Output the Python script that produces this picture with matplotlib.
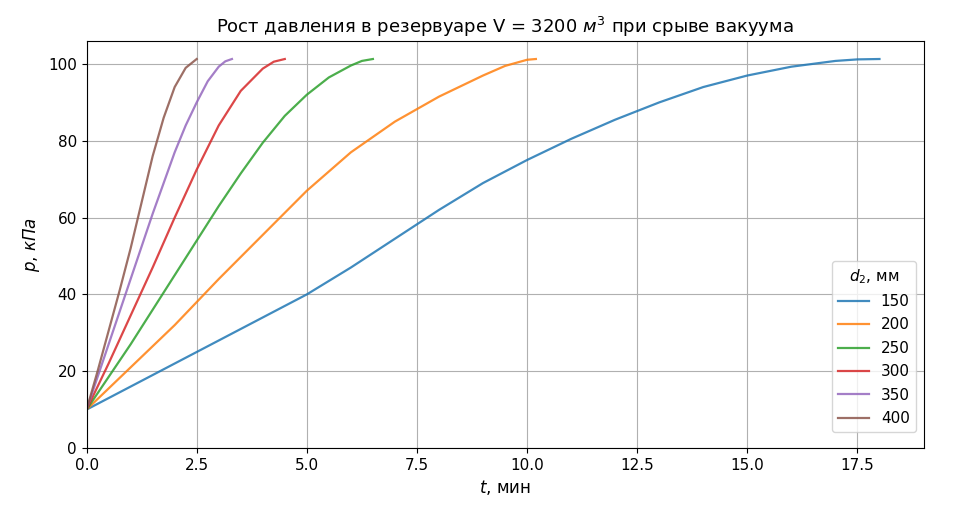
import matplotlib
matplotlib.use("Agg")
import matplotlib.pyplot as plt

diameters = ["150", "200", "250", "300", "350", "400"]
t_150 = [0, 1, 2, 3, 4, 5, 6, 7, 8, 9, 10, 11, 12, 13, 14, 15, 16, 17, 17.5, 18]
p_150 = [10, 16, 22, 28, 34, 40, 47, 54.5, 62, 69, 75, 80.5, 85.5, 90, 94, 97, 99.3, 100.8, 101.2, 101.3]
t_200 = [0, 1, 2, 3, 4, 5, 6, 7, 8, 9, 9.5, 10, 10.2]
p_200 = [10, 21, 32, 44, 55.5, 67, 77, 85, 91.5, 97, 99.5, 101.1, 101.3]
t_250 = [0, 0.5, 1, 1.5, 2, 2.5, 3, 3.5, 4, 4.5, 5, 5.5, 6, 6.25, 6.5]
p_250 = [10, 18.5, 27, 36, 45, 54, 63, 71.5, 79.5, 86.5, 92, 96.5, 99.6, 100.8, 101.3]
t_300 = [0, 0.5, 1, 1.5, 2, 2.5, 3, 3.5, 4, 4.25, 4.5]
p_300 = [10, 22, 34.5, 47, 60, 72.5, 84, 93, 98.8, 100.6, 101.3]
t_350 = [0, 0.5, 1, 1.5, 2, 2.25, 2.5, 2.75, 3, 3.15, 3.3]
p_350 = [10, 27, 44, 61, 77, 84, 90, 95.5, 99.3, 100.7, 101.3]
t_400 = [0, 0.25, 0.5, 0.75, 1, 1.25, 1.5, 1.75, 2, 2.25, 2.5]
p_400 = [10, 20, 30.5, 41, 52, 64, 76, 86, 94, 99, 101.3]

series = [(t_150, p_150), (t_200, p_200), (t_250, p_250),
          (t_300, p_300), (t_350, p_350), (t_400, p_400)]

fig, ax = plt.subplots(figsize=(9.62, 5.12), dpi=100)
for (t, p), d in zip(series, diameters):
    ax.plot(t, p, label=d, alpha=0.85, lw=1.6)
ax.set_xlim(0, 19)
ax.set_ylim(0, 106)
ax.grid(True)
ax.set_xlabel("$t$, мин", fontsize=12)
ax.set_ylabel("$p$, $кПа$", fontsize=12)
ax.set_title("Рост давления в резервуаре V = 3200 $м^3$ при срыве вакуума", fontsize=13)
ax.legend(title="$d_2$, мм", loc="lower right", bbox_to_anchor=(1.0, 0.02),
          fontsize=11, title_fontsize=11, labelspacing=0.55)
ax.tick_params(labelsize=11)
fig.subplots_adjust(left=0.09, right=0.96, top=0.92, bottom=0.125)
fig.savefig("out.png")
